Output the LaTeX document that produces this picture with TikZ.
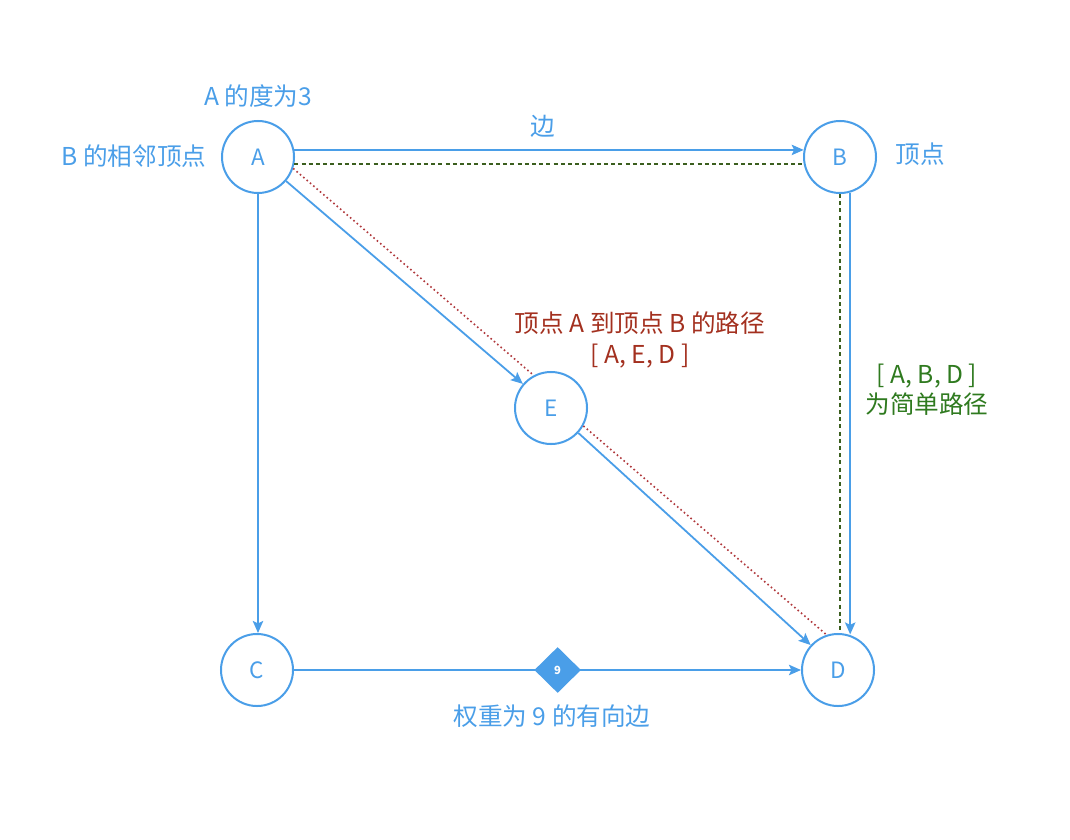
\documentclass[tikz,border=0pt]{standalone}
\usepackage{fontspec}
\setmainfont{Noto Sans CJK SC}
\usetikzlibrary{arrows.meta, shapes.geometric}

\definecolor{lanse}{HTML}{4A9EE8}
\definecolor{hongse}{HTML}{A3301F}
\definecolor{lvse}{HTML}{2F7A1F}
\definecolor{xulv}{HTML}{3B5E1E}
\definecolor{xuhong}{HTML}{B0383C}

\begin{document}
\begin{tikzpicture}[x=0.025cm, y=-0.025cm, >={Stealth[length=0.3cm, width=0.26cm, inset=0.06cm]},
    vertex/.style={circle, draw=lanse, line width=0.05cm, minimum size=1.8cm, inner sep=0pt,
        text=lanse, font=\fontsize{16}{19}\selectfont},
    edge/.style={->, draw=lanse, line width=0.045cm},
    pathred/.style={draw=xuhong, line width=0.04cm, dotted},
    pathgreen/.style={draw=xulv, line width=0.05cm, dash pattern=on 0.1cm off 0.08cm},
    weight/.style={diamond, fill=lanse, inner sep=0pt, minimum width=1.18cm, minimum height=1.16cm,
        text=white, font=\bfseries\fontsize{8}{9}\selectfont},
    label/.style={font=\fontsize{17.5}{21.5}\selectfont, align=center}]

% 画布大小
\useasboundingbox (0,0) rectangle (1070,840);

% 顶点
\node[vertex] (A) at (258,157) {A};
\node[vertex] (B) at (840,157) {B};
\node[vertex] (E) at (551,408) {E};
\node[vertex] (C) at (257,670) {C};
\node[vertex] (D) at (838,670) {D};

% 有向边
\draw[edge] (A.11) -- (B.169);
\draw[edge] (A) -- (E);
\draw[edge] (E) -- (D);
\draw[edge] (A.south) -- (A.south |- C.north);
\draw[edge] (B.-74) -- (B.-74 |- D.74);
\draw[edge] (C.east) -- node[weight, pos=.52] (w) {9} (D.west);

% 路径 [A, E, D]
\draw[pathred] (A.-18) -- (E.118);
\draw[pathred] (E.-29) -- (D.108);

% 简单路径 [A, B, D]
\draw[pathgreen] (A.-11) -- (B.191);
\draw[pathgreen] (B.south) -- (B.south |- D.north);

% 标注
\node[label, text=lanse] (degA) at (258,96) {A 的度为3};
\node[label, text=lanse] (adjB) at (134,156) {B 的相邻顶点};
\node[label, text=lanse] (bian) at (543,126) {边};
\node[label, text=lanse] (dingdian) at (920,154) {顶点};
\node[label, text=hongse] (lujing) at (640,340) {顶点 A 到顶点 B 的路径\\{[} A, E, D ]};
\node[label, text=lvse] (jiandan) at (927,390) {{[} A, B, D ]\\为简单路径};
\node[label, text=lanse] (quanzhong) at (552,716) {权重为 9 的有向边};

\end{tikzpicture}
\end{document}
